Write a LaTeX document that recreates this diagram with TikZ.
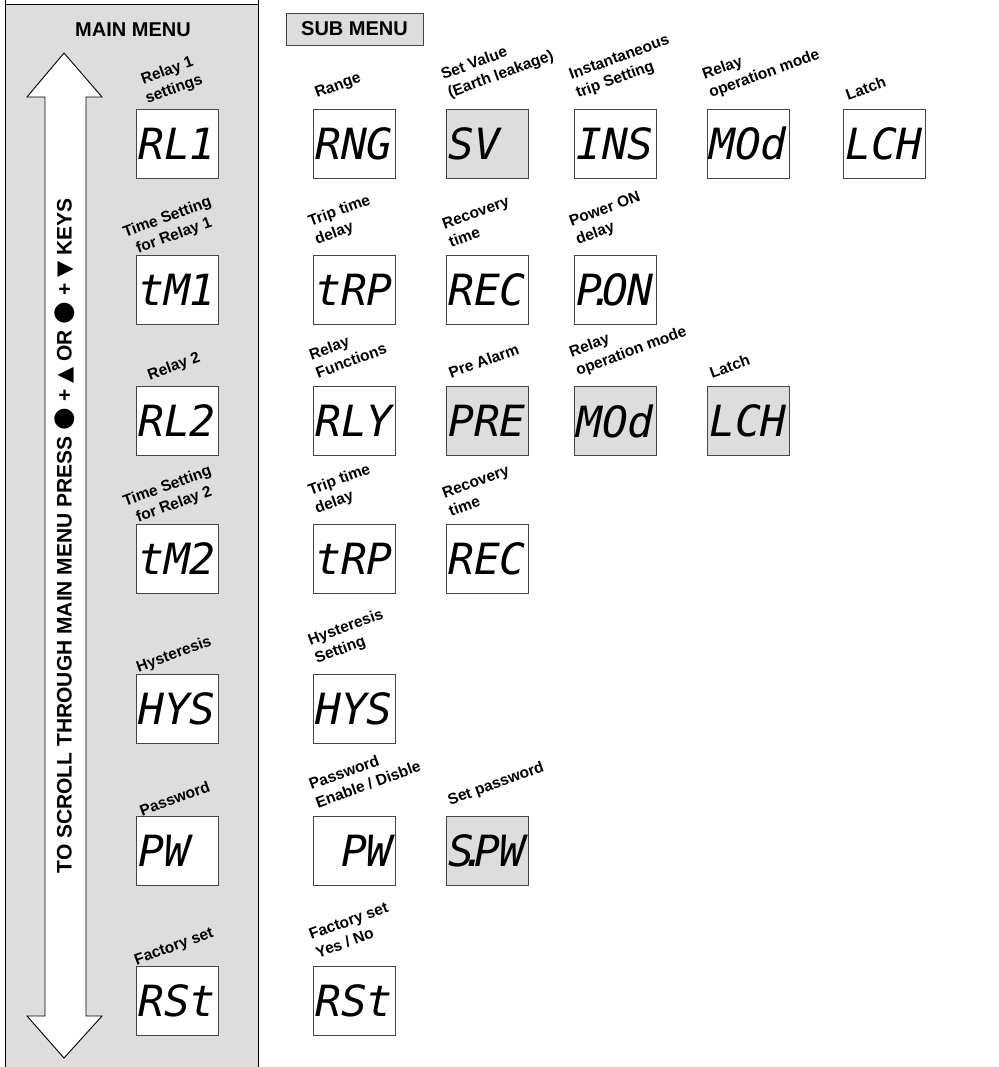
\documentclass[tikz,border=0pt]{standalone}
\usepackage{fontspec}
\setmainfont{Liberation Sans}
\newfontfamily\segfont{DejaVu Sans Mono}
\newfontfamily\symfont{DejaVu Sans}
\usepackage{xcolor}
\usepackage{tikz}
\usetikzlibrary{positioning,calc}
\definecolor{panelgray}{RGB}{221,221,221}
\definecolor{framegray}{RGB}{70,70,70}

\begin{document}
\begin{tikzpicture}[
  x=1pt, y=-1pt,
  disp/.style={draw=framegray, line width=0.9pt, fill=white, minimum width=82pt,
    minimum height=69pt, inner sep=0pt, font=\segfont\itshape\fontsize{43}{43}\selectfont},
  lbl/.style={font=\bfseries\fontsize{15.5}{19.5}\selectfont, rotate=20, inner sep=1pt},
  title/.style={font=\bfseries\fontsize{20}{24}\selectfont}
]
\useasboundingbox (0,0) rectangle (998,1067);

% Main menu panel
\draw[line width=0.8pt, fill=panelgray] (5,4) rectangle (258,1075);
\draw[line width=0.8pt] (5,0) -- (5,4) (258,0) -- (258,4);
\node[title] (mainttl) at (133,30) {MAIN MENU};

% Double arrow for scrolling
\draw[line width=0.9pt, fill=white] (64,53) -- (102,97) -- (86,97) -- (86,1016) -- (102,1016)
  -- (64,1058) -- (27,1016) -- (45,1016) -- (45,97) -- (27,97) -- cycle;
\node[font=\bfseries\fontsize{21}{21}\selectfont, rotate=90] (scrolltxt) at (65,536)
  {TO SCROLL THROUGH MAIN MENU PRESS {\symfont\fontsize{26}{26}\selectfont ●} +
   {\symfont ▲} OR {\symfont\fontsize{26}{26}\selectfont ●} + {\symfont ▼} KEYS};

% Main menu displays
\foreach \i/\y/\val/\lab in {
  1/143.5/RL1/{Relay 1\\settings},
  2/290/tM1/{Time Setting\\for Relay 1},
  3/421/RL2/{Relay 2},
  4/559/tM2/{Time Setting\\for Relay 2},
  5/709/HYS/{Hysteresis},
  6/851/{PW\hphantom{P}}/{Password},
  7/1001/RSt/{Factory set}}{
  \node[disp] (m\i) at (177,\y) {\val};
  \node[lbl, align=center, anchor=south] (m\i-lab) at ([yshift=11pt]m\i.north) {\lab};
}

% Sub menu
\node[title, draw=framegray, line width=0.9pt, fill=panelgray, minimum width=137pt,
  minimum height=32pt] (subttl) at (354.5,29) {SUB MENU};

\foreach \n/\x/\y/\fc/\val/\lab in {
  r1a/354/143.5/white/RNG/{Range},
  r1b/487/143.5/panelgray/{SV\hphantom{P}}/{Set Value\\(Earth leakage)},
  r1c/615/143.5/white/INS/{Instantaneous\\trip Setting},
  r1d/748/143.5/white/MOd/{Relay\\operation mode},
  r1e/884/143.5/white/LCH/{Latch},
  r2a/354/290/white/tRP/{Trip time\\delay},
  r2b/487/290/white/REC/{Recovery\\time},
  r2c/615/290/white/{P\kern-.3em.\kern-.3em ON}/{Power ON\\delay},
  r3a/354/421/white/RLY/{Relay\\Functions},
  r3b/487/421/panelgray/PRE/{Pre Alarm},
  r3c/615/421/panelgray/MOd/{Relay\\operation mode},
  r3d/748/421/panelgray/LCH/{Latch},
  r4a/354/559/white/tRP/{Trip time\\delay},
  r4b/487/559/white/REC/{Recovery\\time},
  r5a/354/709/white/HYS/{Hysteresis\\Setting},
  r6a/354/851/white/{\hphantom{P}PW}/{Password\\Enable / Disble},
  r6b/487/851/panelgray/{S\kern-.3em.\kern-.3em PW}/{Set password},
  r7a/354/1001/white/RSt/{Factory set\\Yes / No}}{
  \node[disp, fill=\fc] (\n) at (\x,\y) {\val};
  \node[lbl, align=left, anchor=south west] (\n-lab) at ([shift={(5pt,6pt)}]\n.north west) {\lab};
}
\end{tikzpicture}
\end{document}
